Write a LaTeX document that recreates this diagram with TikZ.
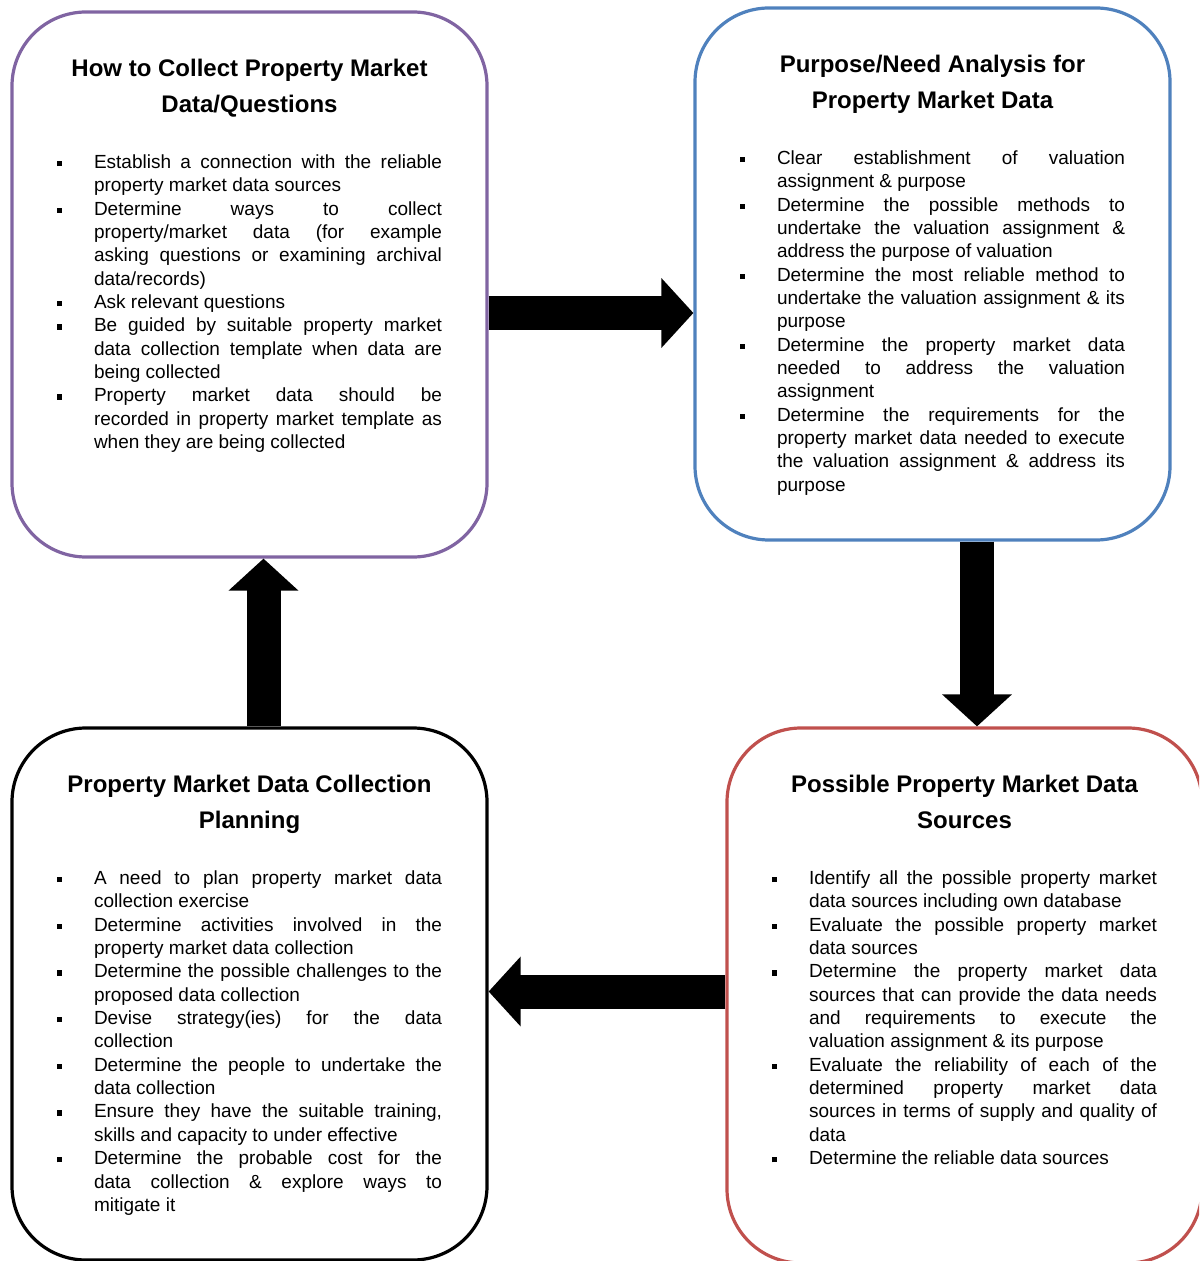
\documentclass[tikz,border=0pt]{standalone}
\usepackage{fontspec}
\setmainfont{Liberation Sans}
\usetikzlibrary{arrows.meta, positioning}
\definecolor{boxpurple}{HTML}{8064A2}
\definecolor{boxblue}{HTML}{4F81BD}
\definecolor{boxred}{HTML}{C0504D}
\tikzstyle{stagebox} = [rectangle, rounded corners=37pt,
minimum width=237.5pt,
line width=1.6pt,
draw=black]
\tikzstyle{stagetitle} = [inner sep=0pt, align=center,
font=\fontsize{12}{18}\selectfont\bfseries]
\tikzstyle{stagelist} = [inner sep=0pt]
\tikzstyle{blockarrow} = [line width=17pt, -{Triangle[width=34pt,length=16pt]}]
\newcommand{\stageitem}[1]{\par\noindent\hangindent=18.5pt\hangafter=1%
\makebox[18.5pt][l]{\rule[1.2pt]{2.6pt}{2.6pt}}#1\par}
\newcommand{\stagelines}[1]{\parbox{192.5pt}{\fontsize{9.5}{11.67}\selectfont
\hyphenpenalty=10000 \tolerance=10000 \hbadness=10000 #1}}

\begin{document}
\begin{tikzpicture}[x=0.5pt, y=-0.5pt]
    \useasboundingbox (0,0) rectangle (1199,1261);
    \clip (0,0) rectangle (1199,1261);

    % the four stages
    \node (howbox) [stagebox, draw=boxpurple, minimum height=272.5pt] at (249.5,284.5) {};
    \node (purposebox) [stagebox, draw=boxblue, minimum height=266pt] at (932.5,274) {};
    \node (sourcesbox) [stagebox, draw=boxred, minimum height=267.5pt] at (964.5,995.5) {};
    \node (planbox) [stagebox, minimum height=266pt] at (249.5,994) {};

    \node (howtitle) [stagetitle, below=24pt of howbox.north] {How to Collect Property Market\\Data/Questions};
    \node (howlist) [stagelist, below=72pt of howbox.north] {\stagelines{%
        \stageitem{Establish a connection with the reliable\linebreak property market data sources}
        \stageitem{Determine ways to collect\linebreak property/market data (for example\linebreak asking questions or examining archival\linebreak data/records)}
        \stageitem{Ask relevant questions}
        \stageitem{Be guided by suitable property market\linebreak data collection template when data are\linebreak being collected}
        \stageitem{Property market data should be\linebreak recorded in property market template as\linebreak when they are being collected}}};

    \node (purposetitle) [stagetitle, below=24pt of purposebox.north] {Purpose/Need Analysis for\\Property Market Data};
    \node (purposelist) [stagelist, below=72pt of purposebox.north] {\stagelines{%
        \stageitem{Clear establishment of valuation\linebreak assignment \& purpose}
        \stageitem{Determine the possible methods to\linebreak undertake the valuation assignment \&\linebreak address the purpose of valuation}
        \stageitem{Determine the most reliable method to\linebreak undertake the valuation assignment \& its\linebreak purpose}
        \stageitem{Determine the property market data\linebreak needed to address the valuation\linebreak assignment}
        \stageitem{Determine the requirements for the\linebreak property market data needed to execute\linebreak the valuation assignment \& address its\linebreak purpose}}};

    \node (sourcestitle) [stagetitle, below=24pt of sourcesbox.north] {Possible Property Market Data\\Sources};
    \node (sourceslist) [stagelist, below=72pt of sourcesbox.north] {\stagelines{%
        \stageitem{Identify all the possible property market\linebreak data sources including own database}
        \stageitem{Evaluate the possible property market\linebreak data sources}
        \stageitem{Determine the property market data\linebreak sources that can provide the data needs\linebreak and requirements to execute the\linebreak valuation assignment \& its purpose}
        \stageitem{Evaluate the reliability of each of the\linebreak determined property market data\linebreak sources in terms of supply and quality of\linebreak data}
        \stageitem{Determine the reliable data sources}}};

    \node (plantitle) [stagetitle, below=24pt of planbox.north] {Property Market Data Collection\\Planning};
    \node (planlist) [stagelist, below=72pt of planbox.north] {\stagelines{%
        \stageitem{A need to plan property market data\linebreak collection exercise}
        \stageitem{Determine activities involved in the\linebreak property market data collection}
        \stageitem{Determine the possible challenges to the\linebreak proposed data collection}
        \stageitem{Devise strategy(ies) for the data\linebreak collection}
        \stageitem{Determine the people to undertake the\linebreak data collection}
        \stageitem{Ensure they have the suitable training,\linebreak skills and capacity to under effective}
        \stageitem{Determine the probable cost for the\linebreak data collection \& explore ways to\linebreak mitigate it}}};

    % cycle arrows
    \draw [blockarrow] ([yshift=-14.25pt]howbox.east) -- ([yshift=-19.5pt]purposebox.west);
    \draw [blockarrow] ([xshift=22.25pt]purposebox.south) -- ([xshift=6.25pt]sourcesbox.north);
    \draw [blockarrow] ([yshift=2pt]sourcesbox.west) -- ([yshift=1.25pt]planbox.east);
    \draw [blockarrow] ([xshift=7pt]planbox.north) -- ([xshift=7pt]howbox.south);

\end{tikzpicture}
\end{document}
